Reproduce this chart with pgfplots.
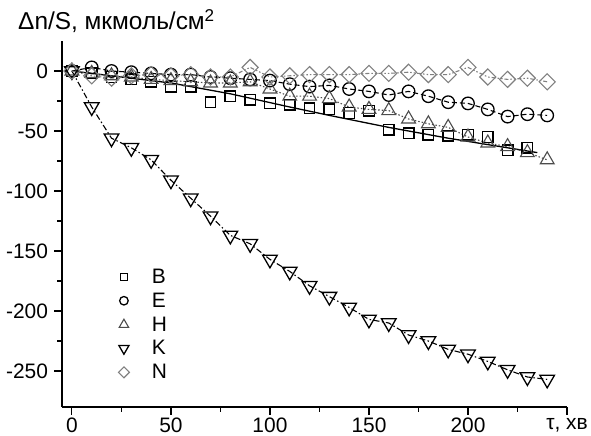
\documentclass[border=0pt]{standalone}
\usepackage{fontspec}
\setmainfont{Liberation Sans}
\usepackage{pgfplots}
\pgfplotsset{compat=1.18}
\begin{document}
\begin{tikzpicture}
\begin{axis}[
  name=ax,
  scale only axis, width=505bp, height=366bp,
  xmin=-5, xmax=250, ymin=-280, ymax=25,
  axis lines=left, axis line style={-, line width=1.3pt},
  tick align=outside, major tick length=7.5bp, minor tick length=4.5bp,
  every tick/.style={black, line width=1.2pt},
  xtick={0,50,100,150,200,250},
  xticklabels={0,50,100,150,200,{τ, хв}},
  ytick={-250,-200,-150,-100,-50,0},
  yticklabels={-250,-200,-150,-100,-50,0},
  minor tick num=1,
  tick label style={font=\fontsize{21}{24}\selectfont},
  yticklabel style={xshift=-3bp},
  clip=false,
  legend style={at={(axis description cs:0.104,0.386)}, anchor=north west, draw=none, fill=none,
    font=\fontsize{21}{24}\selectfont, row sep=4bp, legend cell align=left, inner ysep=1bp},
  legend image code/.code={\path (0cm,0cm) (1.1cm,0cm); \draw[#1, every mark/.append style={scale=0.68}] plot coordinates {(0.2cm,0cm)};},
]
% B fit line (solid)
\addplot[black, line width=1.3pt, forget plot] coordinates {
(0,0) (30,-6) (50,-10) (80,-19) (110,-30) (130,-37) (160,-47) (190,-56) (220,-64) (235,-68)};
% B
\addplot[black, draw=none, mark=square, mark size=5.3pt, mark options={solid, fill=white, line width=1.3pt}] coordinates {
(0,0) (10,-2) (20,-5) (30,-7) (40,-9) (50,-13) (60,-13) (70,-26) (80,-21) (90,-24) (100,-27) (110,-28)
(120,-31) (130,-32) (140,-35) (150,-33) (160,-49) (170,-52) (180,-53) (190,-54) (200,-53) (210,-55) (220,-66) (230,-64)};
\addlegendentry{B}
% E
\addplot[black, line width=1.1pt, dash pattern=on 5bp off 3bp, mark=o, mark size=6.3pt, mark options={solid, fill=white, line width=1.3pt}] coordinates {
(0,0) (10,3) (20,0) (30,-1) (40,-2) (50,-3) (60,-3) (70,-5) (80,-6) (90,-7) (100,-8) (110,-11)
(120,-13) (130,-12) (140,-15) (150,-17) (160,-20) (170,-17) (180,-21) (190,-26) (200,-27) (210,-32) (220,-38) (230,-36) (240,-37)};
\addlegendentry{E}
% H
\addplot[black!70, line width=1.1pt, dash pattern=on 1.5bp off 2bp, mark=triangle, mark size=8pt, mark options={solid, fill=white, line width=1.1pt}] coordinates {
(0,0) (10,-2) (20,-4) (30,-5) (40,-7) (50,-8) (60,-9) (70,-10) (80,-10) (90,-9) (100,-15) (110,-21)
(120,-21) (130,-23) (140,-30) (150,-32) (160,-33) (170,-40) (180,-44) (190,-47) (200,-55) (210,-60) (220,-63) (230,-68) (240,-74)};
\addlegendentry{H}
% K
\addplot[black, line width=1.1pt, dash pattern=on 6bp off 2.5bp on 1.5bp off 2.5bp, mark=triangle, mark size=8.5pt, mark options={solid, fill=white, rotate=180, line width=1.3pt}] coordinates {
(0,0) (10,-30) (20,-56) (30,-64) (40,-74) (50,-91) (60,-106) (70,-121) (80,-137) (90,-144) (100,-157) (110,-167)
(120,-179) (130,-188) (140,-197) (150,-207) (160,-210) (170,-220) (180,-225) (190,-232) (200,-236) (210,-242) (220,-249) (230,-255) (240,-257)};
\addlegendentry{K}
% N
\addplot[black!50, line width=1.1pt, dash pattern=on 4bp off 2bp on 1.5bp off 2bp on 1.5bp off 2bp, mark=square, mark size=5.7pt, mark options={solid, fill=white, rotate=45, line width=1.1pt}] coordinates {
(0,0) (10,-4) (20,-6) (30,-4) (40,-3) (50,-4) (60,-3) (70,-5) (80,-5) (90,3) (100,-5) (110,-4)
(120,-3) (130,-3) (140,-3) (150,-2) (160,-2) (170,-1) (180,-3) (190,-3) (200,3) (210,-5) (220,-7) (230,-6) (240,-9)};
\addlegendentry{N}
\end{axis}
\node[anchor=base west, font=\fontsize{24.5}{28}\selectfont, inner sep=0pt] at ([shift={(-44bp,11bp)}]ax.north west) {Δn/S, мкмоль/см\textsuperscript{2}};
\pgfresetboundingbox
\path[use as bounding box] ([shift={(-62bp,-29bp)}]ax.south west) rectangle ++(591bp,436bp);
\end{tikzpicture}
\end{document}
